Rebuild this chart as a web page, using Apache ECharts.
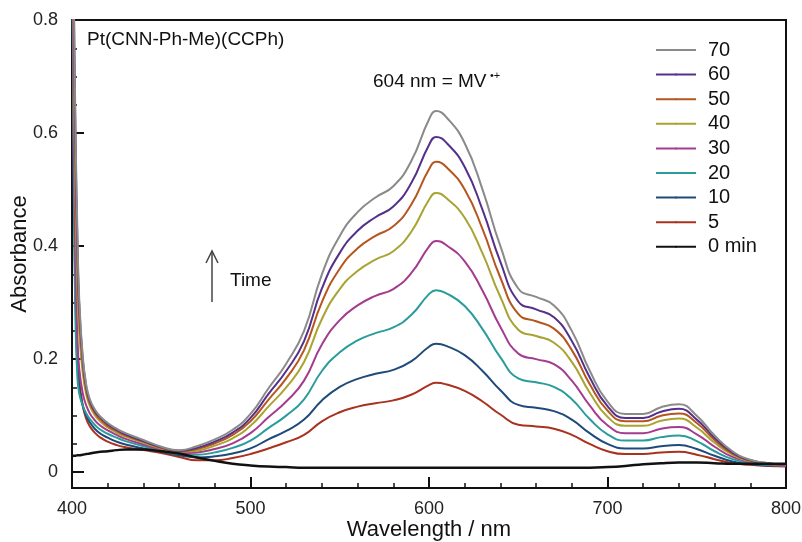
<!DOCTYPE html>
<html lang="en">
<head>
    <meta charset="UTF-8">
    <title>Pt(CNN-Ph-Me)(CCPh)</title>
    <script src="https://cdn.jsdelivr.net/npm/echarts@6/dist/echarts.min.js"></script>
    <style>
        html, body { margin: 0; padding: 0; background: #fff; }
        #echart { width: 802px; height: 542px; }
    </style>
</head>
<body>
<div id="echart"></div>
<script type="text/javascript">
    // wavelengths (nm)
    var wl = [400, 401, 402, 403, 404, 406, 408, 410, 413, 416, 420, 425, 430, 440, 450, 460,
        470, 480, 490, 500, 510, 520, 530, 540, 550, 560, 570, 580, 590, 600, 604,
        610, 620, 630, 640, 650, 660, 670, 680, 690, 700, 710, 720, 730, 740, 750, 760, 770, 780, 790, 800];

    // absorbance, one list per time (min)
    var t0 = [0.028, 0.029, 0.029, 0.030, 0.030, 0.031, 0.032, 0.033, 0.035, 0.036, 0.037, 0.039, 0.040, 0.040, 0.037, 0.033,
        0.026, 0.020, 0.015, 0.012, 0.010, 0.009, 0.008, 0.008, 0.008, 0.008, 0.008, 0.008, 0.008, 0.008, 0.008,
        0.008, 0.008, 0.008, 0.008, 0.008, 0.008, 0.008, 0.008, 0.008, 0.009, 0.011, 0.014, 0.016, 0.017, 0.017, 0.016, 0.015, 0.015, 0.015, 0.015];
    var t5 = [1.0, 0.6, 0.34, 0.22, 0.165, 0.118, 0.094, 0.081, 0.069, 0.061, 0.054, 0.048, 0.044, 0.039, 0.034, 0.027,
        0.021, 0.021, 0.025, 0.032, 0.042, 0.053, 0.066, 0.090, 0.106, 0.116, 0.122, 0.127, 0.137, 0.154, 0.158,
        0.155, 0.144, 0.125, 0.102, 0.084, 0.081, 0.077, 0.066, 0.050, 0.037, 0.032, 0.032, 0.035, 0.036, 0.031, 0.023, 0.016, 0.013, 0.011, 0.010];
    var t10 = [1.0, 0.55, 0.3, 0.19, 0.15, 0.118, 0.1, 0.088, 0.076, 0.068, 0.061, 0.054, 0.049, 0.042, 0.036, 0.030,
        0.026, 0.028, 0.033, 0.042, 0.058, 0.073, 0.093, 0.127, 0.151, 0.165, 0.174, 0.181, 0.196, 0.222, 0.227,
        0.223, 0.207, 0.179, 0.145, 0.119, 0.114, 0.108, 0.093, 0.069, 0.050, 0.042, 0.042, 0.046, 0.048, 0.041, 0.029, 0.019, 0.014, 0.012, 0.011];
    var t20 = [1.0, 0.5, 0.26, 0.17, 0.14, 0.118, 0.104, 0.094, 0.083, 0.075, 0.068, 0.061, 0.055, 0.046, 0.038, 0.032,
        0.031, 0.035, 0.043, 0.056, 0.078, 0.100, 0.129, 0.179, 0.212, 0.233, 0.246, 0.256, 0.278, 0.315, 0.322,
        0.316, 0.294, 0.253, 0.203, 0.166, 0.159, 0.151, 0.129, 0.094, 0.067, 0.056, 0.056, 0.062, 0.065, 0.055, 0.037, 0.023, 0.016, 0.013, 0.011];
    var t30 = [1.1, 0.62, 0.36, 0.24, 0.185, 0.14, 0.118, 0.104, 0.091, 0.082, 0.074, 0.066, 0.059, 0.049, 0.040, 0.034,
        0.035, 0.041, 0.051, 0.069, 0.097, 0.125, 0.162, 0.226, 0.269, 0.295, 0.312, 0.324, 0.352, 0.399, 0.409,
        0.401, 0.373, 0.321, 0.257, 0.210, 0.200, 0.191, 0.162, 0.118, 0.083, 0.069, 0.069, 0.077, 0.080, 0.067, 0.045, 0.027, 0.018, 0.014, 0.011];
    var t40 = [1.2, 0.75, 0.48, 0.33, 0.25, 0.175, 0.137, 0.117, 0.1, 0.089, 0.079, 0.07, 0.063, 0.052, 0.042, 0.036,
        0.038, 0.047, 0.060, 0.082, 0.116, 0.150, 0.195, 0.271, 0.324, 0.356, 0.376, 0.391, 0.425, 0.482, 0.494,
        0.484, 0.450, 0.387, 0.310, 0.252, 0.241, 0.229, 0.195, 0.141, 0.098, 0.082, 0.082, 0.091, 0.095, 0.079, 0.052, 0.031, 0.019, 0.015, 0.012];
    var t50 = [1.2, 0.8, 0.54, 0.38, 0.28, 0.19, 0.145, 0.122, 0.104, 0.093, 0.082, 0.073, 0.065, 0.054, 0.043, 0.037,
        0.041, 0.051, 0.066, 0.090, 0.128, 0.166, 0.216, 0.301, 0.360, 0.396, 0.418, 0.435, 0.473, 0.536, 0.549,
        0.539, 0.500, 0.430, 0.344, 0.280, 0.267, 0.254, 0.216, 0.156, 0.109, 0.090, 0.090, 0.100, 0.104, 0.087, 0.057, 0.033, 0.020, 0.015, 0.012];
    var t60 = [1.2, 0.84, 0.58, 0.41, 0.3, 0.2, 0.15, 0.126, 0.107, 0.096, 0.085, 0.075, 0.067, 0.055, 0.044, 0.038,
        0.043, 0.054, 0.070, 0.096, 0.138, 0.179, 0.232, 0.325, 0.388, 0.427, 0.451, 0.470, 0.511, 0.579, 0.593,
        0.582, 0.540, 0.464, 0.372, 0.302, 0.288, 0.274, 0.232, 0.168, 0.117, 0.096, 0.096, 0.107, 0.112, 0.093, 0.061, 0.035, 0.021, 0.016, 0.012];
    var t70 = [1.2, 0.86, 0.6, 0.43, 0.31, 0.205, 0.154, 0.129, 0.11, 0.098, 0.087, 0.077, 0.069, 0.057, 0.045, 0.039,
        0.046, 0.058, 0.075, 0.103, 0.148, 0.192, 0.250, 0.350, 0.418, 0.460, 0.486, 0.506, 0.550, 0.624, 0.639,
        0.627, 0.582, 0.500, 0.400, 0.325, 0.310, 0.295, 0.250, 0.180, 0.125, 0.103, 0.103, 0.115, 0.120, 0.100, 0.065, 0.037, 0.022, 0.016, 0.013];

    var names = ['5', '10', '20', '30', '40', '50', '60', '70', '0 min'];
    var lists = [t5, t10, t20, t30, t40, t50, t60, t70, t0];
    var colors = ['#a8321e', '#1f4a7a', '#2a9c9c', '#a33c8e', '#a9a332', '#b5561e', '#55308a', '#8a8a8a', '#111111'];
    var legendOrder = ['70', '60', '50', '40', '30', '20', '10', '5', '0 min'];

    var yMajor = [0, 0.2, 0.4, 0.6, 0.8];
    var yMinor = [0.05, 0.1, 0.15, 0.25, 0.3, 0.35, 0.45, 0.5, 0.55, 0.65, 0.7, 0.75];

    var font = 'Liberation Sans, Arial, sans-serif';

    var series = names.map(function (n, k) {
        return {
            name: n,
            type: 'line',
            symbol: 'none',
            legendIcon: 'rect',
            smooth: 0.5,
            clip: true,
            lineStyle: {color: colors[k], width: n === '0 min' ? 2.5 : 2},
            itemStyle: {color: colors[k]},
            data: wl.map(function (x, i) { return [x, lists[k][i]]; })
        };
    });

    var myEchart = echarts.init(document.getElementById('echart'));
    var option = {
        animation: false,
        backgroundColor: '#fff',
        grid: {
            left: 72, right: 16, top: 20, bottom: 54,
            outerBoundsMode: 'none',
            containLabel: false,
            show: true, borderColor: '#111', borderWidth: 2, backgroundColor: 'transparent'
        },
        legend: {
            data: legendOrder,
            orient: 'vertical',
            left: 650,
            top: 35,
            itemWidth: 40,
            itemHeight: 2.5,
            itemGap: 4.6,
            textStyle: {fontFamily: font, fontSize: 20, lineHeight: 20, color: '#111', padding: [0, 0, 0, 7]}
        },
        xAxis: {
            type: 'value',
            min: 400,
            max: 800,
            interval: 100,
            name: 'Wavelength / nm',
            nameLocation: 'middle',
            nameGap: 31,
            nameMoveOverlap: false,
            nameTextStyle: {fontFamily: font, fontSize: 22, color: '#111'},
            axisLine: {onZero: false, lineStyle: {color: '#111', width: 2}},
            axisTick: {inside: true, length: 11, lineStyle: {color: '#111', width: 2}},
            minorTick: {show: true, splitNumber: 5, length: 5, lineStyle: {color: '#111', width: 1.5}},
            axisLabel: {fontFamily: font, fontSize: 18, color: '#222', margin: 12},
            splitLine: {show: false}
        },
        yAxis: [{
            type: 'value',
            min: -0.028,
            max: 0.8,
            position: 'left',
            name: 'Absorbance',
            nameLocation: 'middle',
            nameGap: 41,
            nameMoveOverlap: false,
            nameTextStyle: {fontFamily: font, fontSize: 22, color: '#111'},
            axisLine: {onZero: false, lineStyle: {color: '#111', width: 2}},
            axisTick: {inside: true, length: 12, customValues: yMajor, lineStyle: {color: '#111', width: 2}},
            axisLabel: {
                fontFamily: font, fontSize: 18, color: '#222', margin: 14, customValues: yMajor,
                formatter: function (v) { return v === 0 ? '0' : v.toFixed(1); }
            },
            splitLine: {show: false}
        }, {
            type: 'value',
            min: -0.028,
            max: 0.8,
            position: 'left',
            axisLine: {show: false},
            axisTick: {inside: true, length: 5, customValues: yMinor, lineStyle: {color: '#111', width: 1.5}},
            axisLabel: {show: false},
            splitLine: {show: false}
        }],
        graphic: [{
            type: 'text', left: 87, top: 30,
            style: {text: 'Pt(CNN-Ph-Me)(CCPh)', font: '19px ' + font, fill: '#111'}
        }, {
            type: 'text', left: 373, top: 72,
            style: {text: '604 nm = MV', font: '19px ' + font, fill: '#111'}
        }, {
            type: 'text', left: 490, top: 70,
            style: {text: '\u2022+', font: '11px ' + font, fill: '#111'}
        }, {
            type: 'text', left: 230, top: 271,
            style: {text: 'Time', font: '19px ' + font, fill: '#111'}
        }, {
            type: 'line', shape: {x1: 212, y1: 302, x2: 212, y2: 251},
            style: {stroke: '#444', lineWidth: 1.5}
        }, {
            type: 'polyline', shape: {points: [[206, 263], [212, 251], [218, 263]]},
            style: {stroke: '#444', lineWidth: 1.5, fill: null}
        }],
        series: series
    };
    myEchart.setOption(option);
</script>
</body>
</html>
